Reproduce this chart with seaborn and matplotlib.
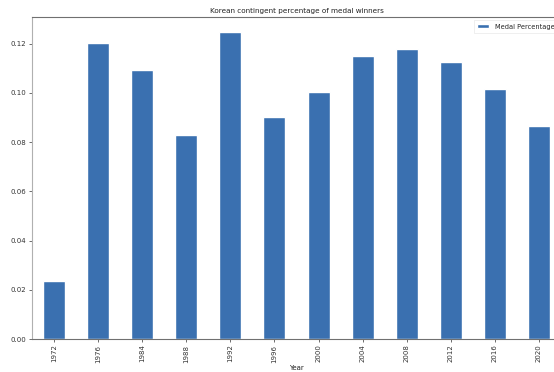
import matplotlib
matplotlib.use("Agg")
import matplotlib.pyplot as plt
import seaborn as sns
import pandas as pd

years = ["1972", "1976", "1984", "1988", "1992", "1996", "2000", "2004", "2008", "2012", "2016", "2020"]
medal_pct = [0.0236, 0.1201, 0.1093, 0.0828, 0.1246, 0.0902, 0.1004, 0.1150, 0.1179, 0.1126, 0.1015, 0.0866]
yticks = [0.0, 0.02, 0.04, 0.06, 0.08, 0.10, 0.12]

df = pd.DataFrame({"Year": years, "Medal Percentage": medal_pct})

sns.set_style("white")
plt.rcParams["font.family"] = ["DejaVu Sans"]

fig = plt.figure(figsize=(5.54, 3.72), dpi=100)
ax = fig.add_axes([32 / 554, 1 - 339 / 372, (561 - 32) / 554, (339 - 17) / 372])

sns.barplot(data=df, x="Year", y="Medal Percentage", color="#3a70b0", saturation=1,
            width=0.5, ax=ax, label="Medal Percentage")

ax.set_xlim(-0.5, len(years) - 0.5)
ax.set_ylim(0, max(medal_pct) * 1.05)
ax.set_yticks(yticks)
ax.set_yticklabels([f"{v:.2f}" for v in yticks])
ax.tick_params(axis="both", labelsize=5, length=2, width=0.5, colors="#333333", pad=2, left=True, bottom=True)
ax.tick_params(axis="x", labelrotation=90)
ax.set_xlabel("Year", fontsize=5, labelpad=2, color="#222222")
ax.set_ylabel("")
ax.set_title("Korean contingent percentage of medal winners", fontsize=5.2, pad=3, color="#222222")

for side in ["left", "bottom", "top", "right"]:
    ax.spines[side].set_visible(True)
    ax.spines[side].set_linewidth(0.8)
ax.spines["left"].set_color("#b0b0b0")
ax.spines["bottom"].set_color("#707070")
ax.spines["top"].set_color("#707070")
ax.spines["right"].set_color("#707070")

leg = ax.legend(loc="upper right", fontsize=4.8, frameon=True, borderpad=0.5,
                handlelength=1.8, handleheight=0.6, fancybox=False)
leg.get_frame().set_linewidth(0.4)
leg.get_frame().set_edgecolor("#dddddd")

fig.savefig("out.png", dpi=100)
